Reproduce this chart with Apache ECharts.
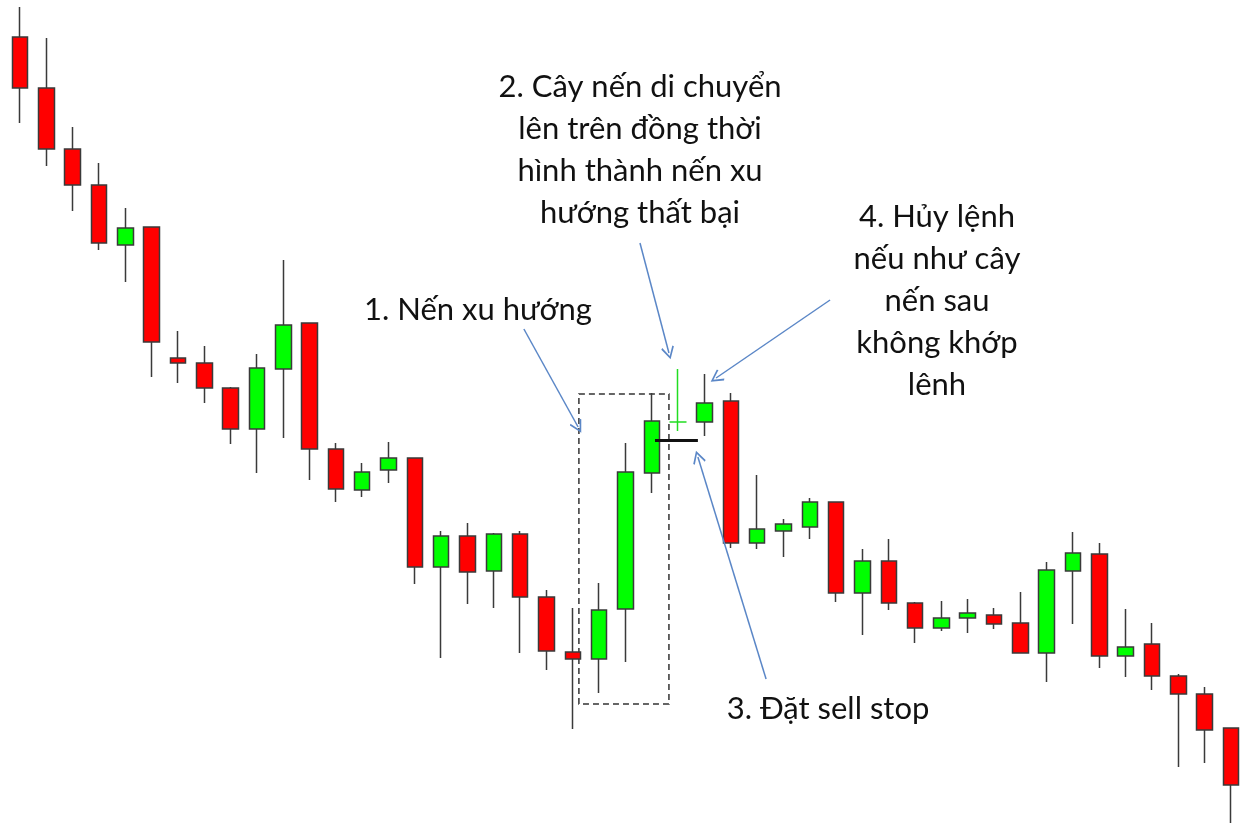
<!DOCTYPE html>
<html>
<head>
<meta charset="utf-8">
<script src="https://cdn.jsdelivr.net/npm/echarts@6/dist/echarts.min.js"></script>
<style>
  html, body { margin: 0; padding: 0; background: #fff; }
  #chart { width: 1241px; height: 823px; }
</style>
</head>
<body>
<div id="chart"></div>
<script>
// candle values (arbitrary price units), index 25 is the forming candle drawn separately
const opens  = [863, 812, 751, 715, 655, 673, 542, 537, 512, 471, 531, 577, 451, 410, 430, 442, 333, 364, 329, 366, 303, 248, 241, 291, 427, null, 478, 499, 357, 369, 373, 398, 307, 339, 297, 272, 282, 285, 277, 247, 329, 346, 244, 256, 224, 206, 172]
const closes = [812, 751, 715, 657, 672, 558, 537, 512, 471, 532, 575, 451, 411, 428, 442, 333, 364, 328, 366, 303, 249, 241, 290, 428, 479, null, 497, 357, 371, 376, 398, 307, 339, 297, 272, 282, 287, 276, 247, 330, 347, 244, 253, 224, 206, 170, 115]
const lows   = [777, 734, 689, 650, 618, 523, 517, 497, 456, 427, 462, 420, 398, 403, 417, 316, 242, 296, 292, 247, 230, 171, 207, 238, 407, null, 464, 352, 351, 343, 361, 298, 265, 290, 257, 269, 267, 271, 247, 218, 276, 232, 223, 210, 133, 137, 70]
const highs  = [893, 862, 773, 737, 692, 673, 569, 554, 513, 546, 640, 577, 457, 437, 458, 442, 369, 377, 367, 369, 310, 292, 317, 457, 507, null, 526, 507, 425, 381, 402, 398, 351, 361, 298, 299, 301, 292, 308, 338, 368, 357, 291, 277, 226, 213, 172]

// the candle that is still forming (index, open, close, low, high)
const formingCandle = [25, 478, 478, 469, 531]

// sell stop level and its span in candle index units
const sellStop = { level: 460, from: 24.12, to: 25.75 }

// dashed box round the trend candles
const trendBox = [[21.23, 506], [24.65, 196]]

// annotation arrows: [fromX, fromY, toX, toY]
const arrows = [
  [19.14, 571, 21.2, 473],
  [23.55, 657, 24.65, 547],
  [28.34, 221, 25.75, 443],
  [30.77, 600, 26.44, 522]
]

const notes = [
  { text: '1. Nến xu hướng', x: 478, y: 289 },
  { text: '2. Cây nến di chuyển\nlên trên đồng thời\nhình thành nến xu\nhướng thất bại', x: 640, y: 66 },
  { text: '3. Đặt sell stop', x: 828, y: 688 },
  { text: '4. Hủy lệnh\nnếu như cây\nnến sau\nkhông khớp\nlênh', x: 937, y: 196 }
]

const candles = opens
  .map((o, i) => [i, o, closes[i], lows[i], highs[i]])
  .filter((d) => d[1] != null)

const arrowHead = 'path://M5,0 L10,9 L9,10 L5,2.6 L1,10 L0,9 Z'
const chart = echarts.init(document.getElementById('chart'))

chart.setOption({
  animation: false,
  backgroundColor: '#fff',
  grid: { left: 0, right: 0, top: 0, bottom: 0 },
  xAxis: { type: 'value', min: -0.76, max: 46.38, show: false, splitLine: { show: false } },
  yAxis: { type: 'value', min: 77, max: 900, show: false, splitLine: { show: false } },
  graphic: notes.map((n) => ({
    type: 'text',
    x: n.x,
    y: n.y,
    style: {
      text: n.text,
      fill: '#111',
      font: '31px Lato',
      lineHeight: 42,
      align: 'center',
      verticalAlign: 'top'
    }
  })),
  series: [
    {
      type: 'candlestick',
      data: candles,
      encode: { x: 0, y: [1, 2, 3, 4] },
      barWidth: 16,
      clip: false,
      itemStyle: {
        color: '#00ff00',
        color0: '#ff0000',
        borderColor: '#3a3a3a',
        borderColor0: '#3a3a3a',
        borderWidth: 1.5
      },
      markArea: {
        silent: true,
        itemStyle: {
          color: 'rgba(0,0,0,0)',
          borderColor: '#333',
          borderWidth: 1.5,
          borderType: [6, 4]
        },
        data: [[{ coord: trendBox[0] }, { coord: trendBox[1] }]]
      },
      markLine: {
        silent: true,
        symbol: ['none', arrowHead],
        symbolSize: 13,
        label: { show: false },
        lineStyle: { color: '#5b87c7', width: 1.5, type: 'solid' },
        data: arrows.map((a) => [{ coord: [a[0], a[1]] }, { coord: [a[2], a[3]] }])
      }
    },
    {
      type: 'candlestick',
      data: [formingCandle],
      encode: { x: 0, y: [1, 2, 3, 4] },
      barWidth: 17,
      clip: false,
      itemStyle: {
        color: '#22dd22',
        color0: '#22dd22',
        borderColor: '#22dd22',
        borderColor0: '#22dd22',
        borderColorDoji: '#22dd22',
        borderWidth: 1.5
      },
      markLine: {
        silent: true,
        symbol: 'none',
        label: { show: false },
        lineStyle: { color: '#111', width: 3, type: 'solid' },
        data: [[{ coord: [sellStop.from, sellStop.level] }, { coord: [sellStop.to, sellStop.level] }]]
      }
    }
  ]
})
</script>
</body>
</html>
